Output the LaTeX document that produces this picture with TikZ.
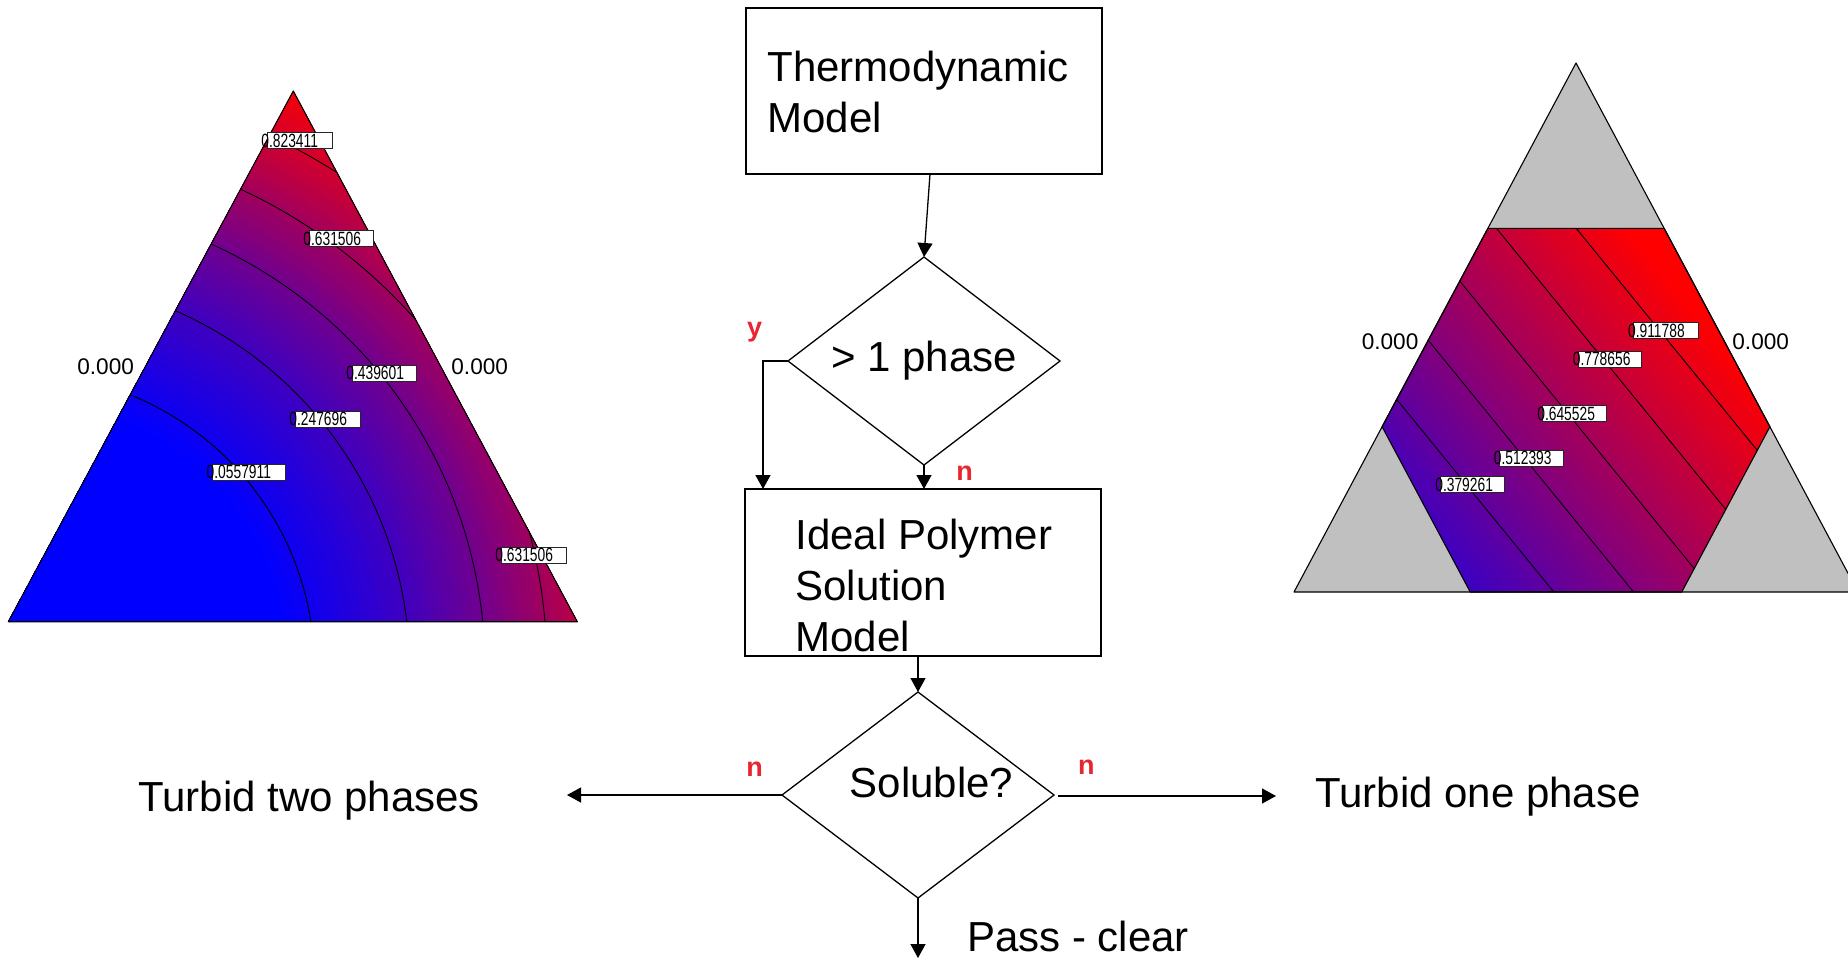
\documentclass[tikz,border=0pt]{standalone}
\usepackage{fontspec}
\setmainfont{Liberation Sans}
\usepackage{graphicx}
\usetikzlibrary{shapes.geometric,arrows.meta,calc}
\definecolor{plotgray}{RGB}{192,192,192}
\definecolor{labred}{RGB}{232,38,48}
\newcommand\vallabel[4]{%
  \node[valbox, minimum width=#4] (#1) at (#2) {};
  \node[valtext] (#1t) at ([xshift=-3pt]#1.west) {\scalebox{0.72}[1]{#3}};
}
\begin{document}
\begin{tikzpicture}[x=0.5pt,y=-0.5pt,
  maintxt/.style={font=\fontsize{21pt}{25pt}\selectfont, inner sep=0pt, anchor=base west},
  procbox/.style={draw, line width=0.65pt, rectangle, minimum width=178pt, minimum height=83pt, inner sep=0pt, outer sep=0pt},
  decision/.style={draw, line width=0.65pt, diamond, minimum width=136pt, minimum height=104pt, inner sep=0pt, outer sep=0pt},
  flow/.style={line width=0.65pt, -{Triangle[length=7pt,width=7.5pt]}},
  yn/.style={text=labred, font=\bfseries\fontsize{13.5pt}{16pt}\selectfont, inner sep=0pt, anchor=base west},
  axlab/.style={font=\fontsize{11.3pt}{13pt}\selectfont, inner sep=0pt, anchor=base west},
  valbox/.style={draw=black!85, fill=white, line width=0.45pt, minimum height=8pt, inner sep=0pt, outer sep=0pt, anchor=north west},
  valtext/.style={font=\fontsize{9.6pt}{11pt}\selectfont, inner sep=0pt, anchor=west},
  contour/.style={line width=0.45pt, black},
  edgeline/.style={line width=0.55pt, black, line join=round}
]
\useasboundingbox (0,0) rectangle (1848,959);
\fill[white] (0,0) rectangle (1848,959);

% ---------------- left ternary plot ----------------
\coordinate (LA) at (293.3,91);
\coordinate (LB) at (8.3,621.7);
\coordinate (LC) at (577.3,621.7);
\begin{scope}
  \clip (LA) -- (LB) -- (LC) -- cycle;
  \fill[blue] (0,60) rectangle (620,640);
  \foreach \rad in {660,656,...,268} {
    \pgfmathtruncatemacro\mix{\rad<294.5 ? max(0,(\rad-267)*0.2029) : (\rad<389.5 ? 5.58+(\rad-294.5)*0.2020 : (\rad<465 ? 24.77+(\rad-389.5)*0.2542 : (\rad<527 ? 43.96+(\rad-465)*0.3095 : (\rad<588 ? 63.15+(\rad-527)*0.3146 : min(100,82.34+(\rad-588)*0.2848)))))}
    \fill[red!\mix!blue] (20,668) circle[radius=\rad*0.5pt];
  }
  \foreach \rr in {147.25,194.75,232.5,263.5,294} {
    \draw[contour] (20,668) circle[radius=\rr pt];
  }
\end{scope}
\draw[edgeline] (LA) -- (LB) -- (LC) -- cycle;
\node[axlab] (l000a) at (77,374) {0.000};
\node[axlab] (l000b) at (451,374) {0.000};
\vallabel{vLa}{267,132.7}{0.823411}{32.5pt}
\vallabel{vLb}{309,230.5}{0.631506}{32pt}
\vallabel{vLc}{352,365}{0.439601}{32pt}
\vallabel{vLd}{295,411}{0.247696}{32.5pt}
\vallabel{vLe}{212.3,464.3}{0.0557911}{36.5pt}
\vallabel{vLf}{501,547}{0.631506}{32.5pt}

% ---------------- right ternary plot ----------------
\coordinate (RA) at (1576,63);
\coordinate (RB) at (1294,592);
\coordinate (RC) at (1858,592);
\coordinate (H1) at (1487.9,228.3);
\coordinate (H2) at (1664.1,228.3);
\coordinate (H3) at (1769.9,426.7);
\coordinate (H4) at (1681.75,592);
\coordinate (H5) at (1470.25,592);
\coordinate (H6) at (1382.1,426.7);
\fill[plotgray] (RA) -- (RB) -- (RC) -- cycle;
\begin{scope}
  \clip (H1) -- (H2) -- (H3) -- (H4) -- (H5) -- (H6) -- cycle;
  \foreach \sval in {760,764,...,1148} {
    \pgfmathtruncatemacro\mix{min(100,max(0,(\sval+2-653.9)/4.643))}
    \fill[red!\mix!blue]
      ({0.775*\sval+0.632*1100},{-0.632*\sval+0.775*1100}) --
      ({0.775*(\sval+5)+0.632*1100},{-0.632*(\sval+5)+0.775*1100}) --
      ({0.775*(\sval+5)+0.632*1540},{-0.632*(\sval+5)+0.775*1540}) --
      ({0.775*\sval+0.632*1540},{-0.632*\sval+0.775*1540}) -- cycle;
  }
  \foreach \sval in {830,891.8,953.6,1015.4,1077.2} {
    \draw[contour] ({0.775*\sval+0.632*1100},{-0.632*\sval+0.775*1100}) --
                   ({0.775*\sval+0.632*1540},{-0.632*\sval+0.775*1540});
  }
\end{scope}
\draw[edgeline] (H1) -- (H2) -- (H3) -- (H4) -- (H5) -- (H6) -- cycle;
\draw[edgeline] (RA) -- (RB) -- (RC) -- cycle;
\node[axlab] (r000a) at (1361.4,349) {0.000};
\node[axlab] (r000b) at (1732,349) {0.000};
\vallabel{vRa}{1633.7,322.5}{0.911788}{32.3pt}
\vallabel{vRb}{1578.4,351}{0.778656}{31.5pt}
\vallabel{vRc}{1542.9,405.4}{0.645525}{31.8pt}
\vallabel{vRd}{1499.5,450}{0.512393}{31.8pt}
\vallabel{vRe}{1440.9,476.8}{0.379261}{32pt}

% ---------------- flowchart ----------------
\node[procbox] (thermo) at (924,91) {};
\node[maintxt] (thermoA) at (767,81.7) {Thermodynamic};
\node[maintxt] (thermoB) at (767,132.7) {Model};

\node[decision] (d1) at (924,361) {};
\node[maintxt] (d1txt) at (831,371.5) {> 1 phase};

\node[procbox, minimum height=83.5pt] (ideal) at (923,572.5) {};
\node[maintxt] (idealA) at (795,549) {Ideal Polymer};
\node[maintxt] (idealB) at (795,600) {Solution};
\node[maintxt] (idealC) at (795,651) {Model};

\node[decision, minimum height=103pt] (d2) at (918,795) {};
\node[maintxt] (d2txt) at (849.3,797) {Soluble?};

\node[maintxt] (two) at (138,811) {Turbid two phases};
\node[maintxt] (one) at (1315,807) {Turbid one phase};
\node[maintxt] (pass) at (966.7,951) {Pass - clear};

\coordinate (twoend) at (567,795);
\coordinate (oneend) at (1276,796);
\coordinate (passend) at (918,958);

\draw[flow] ([xshift=3pt]thermo.south) -- (d1.north);
\draw[flow] (d1.west) -| ([xshift=9pt]ideal.north west);
\draw[flow] (d1.south) -- (d1.south |- ideal.north);
\draw[flow] (d2.north |- ideal.south) -- (d2.north);
\draw[flow] (d2.west) -- (twoend);
\draw[flow] ([xshift=2pt,yshift=-0.5pt]d2.east) -- (oneend);
\draw[flow] (d2.south) -- (passend);

\node[yn] (ylab) at (746.7,336) {y};
\node[yn] (nlab1) at (956,480) {n};
\node[yn] (nlab2) at (746,776) {n};
\node[yn] (nlab3) at (1077.7,774) {n};
\end{tikzpicture}
\end{document}
